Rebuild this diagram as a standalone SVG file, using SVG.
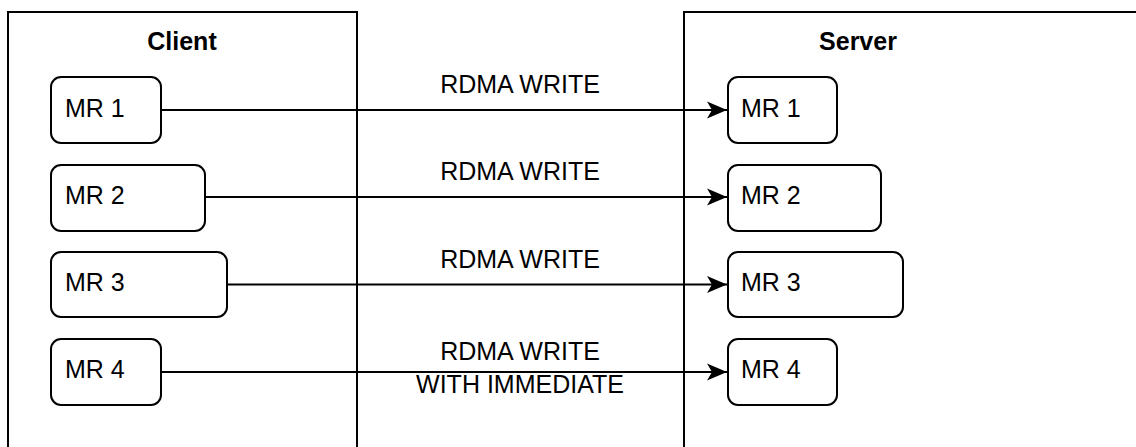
<svg xmlns="http://www.w3.org/2000/svg" width="1136" height="447" viewBox="0 0 1136 447">
  <style>
    .frame { fill: #ffffff; stroke: #000000; stroke-width: 2; }
    .mr { fill: #ffffff; stroke: #000000; stroke-width: 2; }
    .title { font-family: "Liberation Sans", Arial, sans-serif; font-size: 25px; font-weight: bold; fill: #000000; text-anchor: middle; }
    .label { font-family: "Liberation Sans", Arial, sans-serif; font-size: 25px; fill: #000000; }
    .edge-label { font-family: "Liberation Sans", Arial, sans-serif; font-size: 25px; fill: #000000; text-anchor: middle; }
    .edge { fill: none; stroke: #000000; stroke-width: 2; }
  </style>
  <defs>
    <marker id="arrow" markerWidth="20" markerHeight="18" refX="20" refY="9" orient="auto" markerUnits="userSpaceOnUse" viewBox="0 0 20 18">
      <path d="M0,0.5 L20,9 L0,17.5 L5,9 Z" fill="#000000"/>
    </marker>
  </defs>
  <rect width="1136" height="447" fill="#ffffff"/>

  <!-- Client side -->
  <g id="client">
    <rect class="frame" x="8" y="12" width="349" height="450"/>
    <text class="title" x="182" y="50">Client</text>
  </g>
  <g id="client-mr1">
    <rect class="mr" x="51" y="77" width="110" height="66" rx="10"/>
    <text class="label" x="65" y="117">MR 1</text>
  </g>
  <g id="client-mr2">
    <rect class="mr" x="51" y="165" width="154" height="66" rx="10"/>
    <text class="label" x="65" y="204">MR 2</text>
  </g>
  <g id="client-mr3">
    <rect class="mr" x="51" y="252" width="176" height="65" rx="10"/>
    <text class="label" x="65" y="291">MR 3</text>
  </g>
  <g id="client-mr4">
    <rect class="mr" x="51" y="339" width="110" height="66" rx="10"/>
    <text class="label" x="65" y="378">MR 4</text>
  </g>

  <!-- Server side -->
  <g id="server">
    <rect class="frame" x="684" y="12" width="470" height="450"/>
    <text class="title" x="858" y="50">Server</text>
  </g>
  <g id="server-mr1">
    <rect class="mr" x="728" y="77" width="109" height="66" rx="10"/>
    <text class="label" x="741" y="117">MR 1</text>
  </g>
  <g id="server-mr2">
    <rect class="mr" x="728" y="165" width="153" height="66" rx="10"/>
    <text class="label" x="741" y="204">MR 2</text>
  </g>
  <g id="server-mr3">
    <rect class="mr" x="728" y="252" width="175" height="65" rx="10"/>
    <text class="label" x="741" y="291">MR 3</text>
  </g>
  <g id="server-mr4">
    <rect class="mr" x="728" y="339" width="109" height="66" rx="10"/>
    <text class="label" x="741" y="378">MR 4</text>
  </g>

  <!-- RDMA operations -->
  <g id="connectors">
    <path class="edge" d="M161,110 L727,110" marker-end="url(#arrow)"/>
    <path class="edge" d="M205,197 L727,197" marker-end="url(#arrow)"/>
    <path class="edge" d="M227,284.5 L727,284.5" marker-end="url(#arrow)"/>
    <path class="edge" d="M161,372 L727,372" marker-end="url(#arrow)"/>
    <text class="edge-label" x="520" y="93">RDMA WRITE</text>
    <text class="edge-label" x="520" y="180">RDMA WRITE</text>
    <text class="edge-label" x="520" y="268">RDMA WRITE</text>
    <text class="edge-label" x="520" y="360">RDMA WRITE</text>
    <text class="edge-label" x="520" y="393">WITH IMMEDIATE</text>
  </g>
</svg>
